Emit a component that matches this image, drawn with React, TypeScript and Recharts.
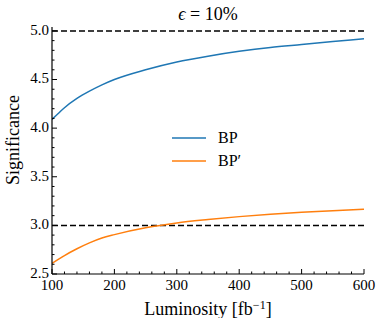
import { LineChart, Line, XAxis, YAxis, ReferenceLine, Legend, Customized } from 'recharts'

// luminosity in fb^-1
const luminosity = [100, 110, 120, 140, 160, 180, 200, 250, 300, 350, 400, 450, 500, 550, 600]
const bpSignificance = [4.09, 4.15, 4.21, 4.305, 4.38, 4.445, 4.5, 4.6, 4.68, 4.74, 4.79, 4.83, 4.86, 4.89, 4.92]
const bpPrimeSignificance = [2.61, 2.65, 2.69, 2.76, 2.82, 2.87, 2.905, 2.975, 3.025, 3.06, 3.09, 3.115, 3.135, 3.15, 3.165]
const thresholds = [5, 3]

const xMajor = [100, 200, 300, 400, 500, 600]
const yMajor = [2.5, 3.0, 3.5, 4.0, 4.5, 5.0]

const SERIES = [
  { key: 'bp', name: 'BP', color: '#1f77b4' },
  { key: 'bpPrime', name: 'BP\u2032', color: '#ff7f0e' },
]

const FONT = 'Liberation Serif'

const data = luminosity.map((l, i) => ({
  lum: l,
  bp: bpSignificance[i],
  bpPrime: bpPrimeSignificance[i],
}))

// minor ticks: every 20 on x, every 0.1 on y
const xTicks = Array.from({ length: 26 }, (_, i) => 100 + i * 20)
const yTicks = Array.from({ length: 26 }, (_, i) => Math.round((2.5 + i * 0.1) * 10) / 10)

const isMajorX = (v: number) => xMajor.includes(v)
const isMajorY = (v: number) => yMajor.some((m) => Math.abs(m - v) < 1e-6)

const MAJOR = 5
const MINOR = 2.5

function XTick({ x, y, payload, side }: any) {
  const v = payload.value
  const len = isMajorX(v) ? MAJOR : MINOR
  const dir = side === 'bottom' ? -1 : 1
  return (
    <g>
      <line x1={x} x2={x} y1={y} y2={y + dir * len} stroke="#000" strokeWidth={1} />
      {side === 'bottom' && isMajorX(v) && (
        <text x={x} y={y + 16} textAnchor="middle" fontSize={15} fontFamily={FONT} fill="#000">
          {v}
        </text>
      )}
    </g>
  )
}

function YTick({ x, y, payload, side }: any) {
  const v = payload.value
  const len = isMajorY(v) ? MAJOR : MINOR
  const dir = side === 'left' ? 1 : -1
  return (
    <g>
      <line x1={x} x2={x + dir * len} y1={y} y2={y} stroke="#000" strokeWidth={1} />
      {side === 'left' && isMajorY(v) && (
        <text x={x - 3} y={y - 1.5} dy="0.35em" textAnchor="end" fontSize={15} fontFamily={FONT} fill="#000">
          {v.toFixed(1)}
        </text>
      )}
    </g>
  )
}

function LegendBox() {
  return (
    <div style={{ fontFamily: FONT, fontSize: 16, color: '#000' }}>
      {SERIES.map((s) => (
        <div key={s.key} style={{ display: 'flex', alignItems: 'center', height: 22.7 }}>
          <svg width={34} height={4}>
            <line x1={0} x2={34} y1={2} y2={2} stroke={s.color} strokeWidth={1.5} />
          </svg>
          <span style={{ marginLeft: 12 }}>{s.name}</span>
        </div>
      ))}
    </div>
  )
}

function Labels() {
  return (
    <g fontFamily={FONT} fill="#000">
      <text x={208} y={20} textAnchor="middle" fontSize={18}>
        <tspan fontStyle="italic">{'\u03f5'}</tspan>
        {' = 10%'}
      </text>
      <text x={208} y={315} textAnchor="middle" fontSize={18}>
        Luminosity [fb
        <tspan dy={-6} fontSize={12}>
          {'\u22121'}
        </tspan>
        <tspan dy={6}>]</tspan>
      </text>
      <text x={13} y={140} textAnchor="middle" dy="0.35em" fontSize={18} transform="rotate(-90 13 140)">
        Significance
      </text>
    </g>
  )
}

export default function App() {
  return (
    <div style={{ position: 'absolute', left: 0, top: 0, background: '#fff' }}>
      <LineChart width={377} height={318} data={data} margin={{ top: 27, right: 13, bottom: 0, left: 0 }}>
        <XAxis
          dataKey="lum"
          type="number"
          domain={[100, 600]}
          allowDataOverflow
          ticks={xTicks}
          interval={0}
          height={44}
          tickSize={0}
          tickMargin={0}
          tickLine={false}
          axisLine={{ stroke: '#000', strokeWidth: 1.2 }}
          tick={(p: any) => <XTick {...p} side="bottom" />}
        />
        <XAxis
          xAxisId="top"
          orientation="top"
          type="number"
          domain={[100, 600]}
          allowDataOverflow
          ticks={xTicks}
          interval={0}
          height={0}
          tickSize={0}
          tickMargin={0}
          tickLine={false}
          axisLine={{ stroke: '#000', strokeWidth: 1.2 }}
          tick={(p: any) => <XTick {...p} side="top" />}
        />
        <YAxis
          type="number"
          domain={[2.5, 5.04]}
          allowDataOverflow
          ticks={yTicks}
          interval={0}
          width={52}
          tickSize={0}
          tickMargin={0}
          tickLine={false}
          axisLine={{ stroke: '#000', strokeWidth: 1.2 }}
          tick={(p: any) => <YTick {...p} side="left" />}
        />
        <YAxis
          yAxisId="right"
          orientation="right"
          type="number"
          domain={[2.5, 5.04]}
          allowDataOverflow
          ticks={yTicks}
          interval={0}
          width={0}
          tickSize={0}
          tickMargin={0}
          tickLine={false}
          axisLine={{ stroke: '#000', strokeWidth: 1.2 }}
          tick={(p: any) => <YTick {...p} side="right" />}
        />
        {thresholds.map((t) => (
          <ReferenceLine key={t} y={t} stroke="#000" strokeWidth={1.5} strokeDasharray="6 3" />
        ))}
        {SERIES.map((s) => (
          <Line
            key={s.key}
            dataKey={s.key}
            name={s.name}
            type="monotone"
            stroke={s.color}
            strokeWidth={1.5}
            dot={false}
            isAnimationActive={false}
          />
        ))}
        <Legend
          layout="vertical"
          align="center"
          verticalAlign="middle"
          wrapperStyle={{ left: 172, top: 127, width: 90 }}
          content={() => <LegendBox />}
        />
        <Customized component={Labels} />
      </LineChart>
    </div>
  )
}
